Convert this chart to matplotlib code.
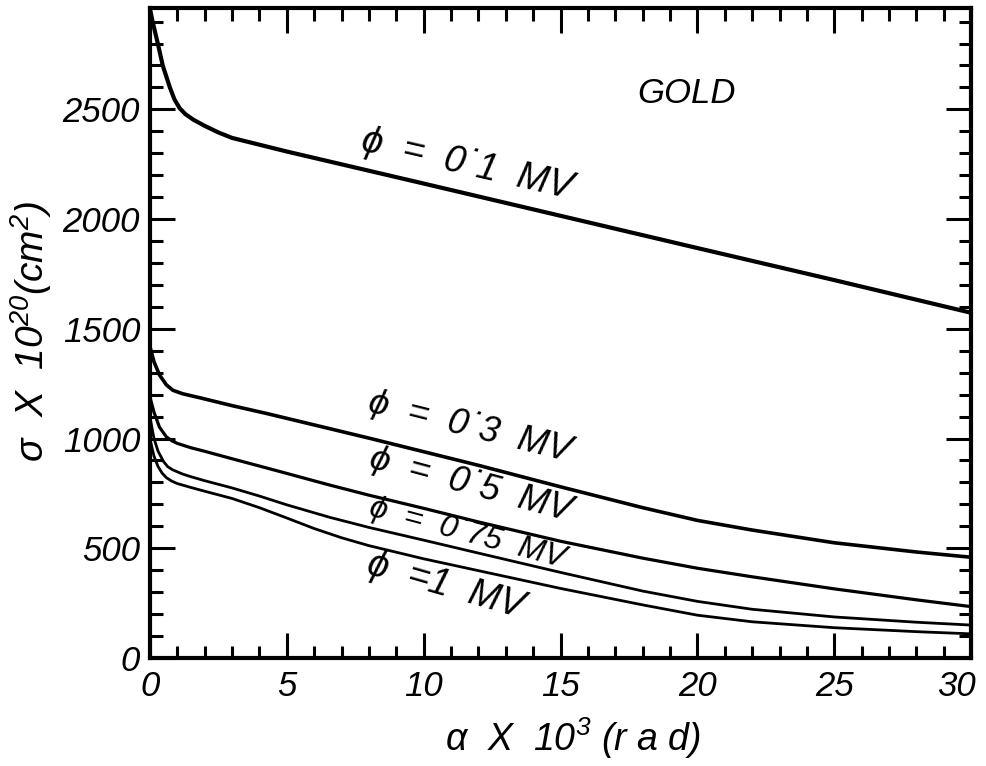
import matplotlib
matplotlib.use('Agg')
import matplotlib.pyplot as plt
import matplotlib.transforms as mtransforms
from matplotlib.ticker import MultipleLocator

plt.rcParams['font.family'] = ['Liberation Sans', 'DejaVu Sans']
plt.rcParams['font.style'] = 'italic'
plt.rcParams['mathtext.fontset'] = 'custom'
plt.rcParams['mathtext.rm'] = 'Liberation Sans:italic'
plt.rcParams['mathtext.it'] = 'Liberation Sans:italic'

# curves: alpha x 10^3 (rad) vs sigma x 10^20 (cm^2)
alpha_01 = [0.0, 0.1, 0.29, 0.47, 0.73, 0.9, 1.09, 1.3, 1.6, 2.0, 2.5, 3.0, 5.0, 10, 15, 20, 25, 30]
sigma_01 = [2960, 2900, 2800, 2700, 2600, 2545, 2505, 2478, 2452, 2425, 2395, 2370, 2308, 2162, 2015, 1868, 1722, 1573]

alpha_03 = [0, 0.15, 0.35, 0.6, 0.84, 1.2, 1.82, 3, 4.27, 6.57, 8, 10, 12, 15, 18, 20, 22, 25, 28, 30]
sigma_03 = [1420, 1350, 1290, 1245, 1220, 1204, 1186, 1150, 1114, 1045, 1002, 940, 878, 780, 685, 627, 583, 525, 483, 459]

alpha_05 = [0, 0.15, 0.35, 0.6, 0.8, 1.0, 1.5, 2, 3, 4.5, 6.57, 8, 10, 12, 15, 18, 20, 22, 25, 28, 30]
sigma_05 = [1190, 1120, 1052, 1008, 990, 978, 958, 942, 908, 858, 788, 742, 682, 620, 532, 455, 409, 370, 315, 265, 234]

alpha_075 = [0, 0.15, 0.3, 0.5, 0.65, 0.84, 1.2, 1.5, 2, 3, 4, 5, 6.57, 8, 10, 12, 15, 18, 20, 22, 25, 28, 30]
sigma_075 = [1100, 1000, 942, 895, 872, 857, 838, 826, 808, 775, 738, 698, 641, 595, 537, 478, 390, 305, 258, 222, 187, 163, 150]

alpha_1 = [0, 0.15, 0.3, 0.45, 0.6, 0.8, 1.0, 1.5, 2, 3, 4, 5, 6, 7, 8, 10, 12, 15, 18, 20, 22, 25, 28, 30]
sigma_1 = [1000, 920, 872, 842, 822, 806, 795, 777, 760, 727, 685, 638, 590, 548, 512, 452, 398, 317, 242, 195, 165, 138, 120, 110]

x_ticks = [0, 5, 10, 15, 20, 25, 30]
y_ticks = [0, 500, 1000, 1500, 2000, 2500]

W, H = 986, 766

fig = plt.figure(figsize=(W / 100, H / 100), dpi=100)
ax = fig.add_axes([0.152, 0.141, 0.833, 0.848])

ax.plot(alpha_01, sigma_01, color='black', lw=3.0, solid_joinstyle='round')
ax.plot(alpha_03, sigma_03, color='black', lw=2.6, solid_joinstyle='round')
ax.plot(alpha_05, sigma_05, color='black', lw=2.3, solid_joinstyle='round')
ax.plot(alpha_075, sigma_075, color='black', lw=2.0, solid_joinstyle='round')
ax.plot(alpha_1, sigma_1, color='black', lw=2.0, solid_joinstyle='round')

ax.set_xlim(0, 30)
ax.set_ylim(0, 2960)
ax.set_xticks(x_ticks)
ax.set_yticks(y_ticks)
ax.xaxis.set_minor_locator(MultipleLocator(1))
ax.yaxis.set_minor_locator(MultipleLocator(100))
ax.tick_params(which='both', direction='in', top=True, right=True, colors='black', width=2.2)
ax.tick_params(which='major', length=18, labelsize=25)
ax.tick_params(axis='y', which='major', pad=7)
ax.tick_params(axis='x', which='major', pad=9)
ax.tick_params(which='minor', length=9)
for s in ax.spines.values():
    s.set_linewidth(3.0)

# keep the last x tick label inside the figure
last = ax.get_xticklabels()[-1]
last.set_ha('right')
last.set_transform(last.get_transform() + mtransforms.ScaledTranslation(5 / 100, 0, fig.dpi_scale_trans))

# axis titles, placed in figure pixels (from the top-left corner)
fig.text(573 / W, 1 - 738 / H, r'α  X  10$^{3}$ (r a d)', fontsize=27, ha='center', va='center')
fig.text(31 / W, 1 - 331 / H, r'σ  X  10$^{20}$(cm$^{2}$)', fontsize=28, ha='center', va='center', rotation=90)

ax.text(19.6, 2573, 'GOLD', fontsize=25, ha='center', va='center')
ax.text(11.6, 2250, 'ϕ  =  0˙1  MV', fontsize=27, ha='center', va='center', rotation=-13)
ax.text(11.7, 1050, 'ϕ  =  0˙3  MV', fontsize=26, ha='center', va='center', rotation=-14)
ax.text(11.7, 790, 'ϕ  =  0˙5  MV', fontsize=26, ha='center', va='center', rotation=-15)
ax.text(11.6, 568, 'ϕ  =  0˙75  MV', fontsize=23, ha='center', va='center', rotation=-15)
ax.text(10.8, 330, 'ϕ  =1  MV', fontsize=27, ha='center', va='center', rotation=-16)

fig.savefig('out.png', dpi=100)
